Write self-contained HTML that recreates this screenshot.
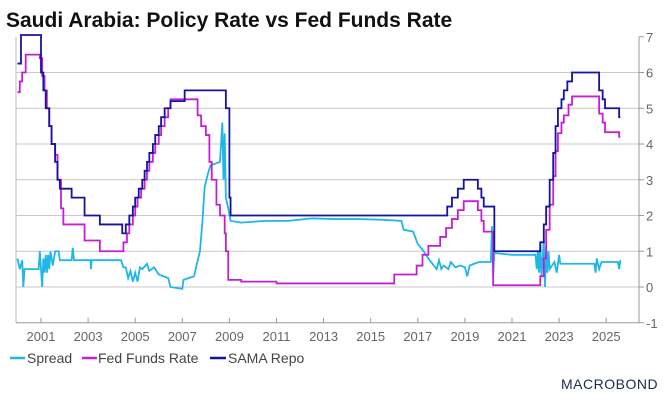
<!DOCTYPE html>
<html><head><meta charset="utf-8"><style>
body{margin:0;background:#fff;font-family:"Liberation Sans",Arial,sans-serif}
#wrap{position:relative;width:666px;height:404px;overflow:hidden}
</style></head><body>
<div id="wrap">
<svg id="chart" width="666" height="404">
<text x="6" y="27" font-size="21" font-weight="bold" fill="#111">Saudi Arabia: Policy Rate vs Fed Funds Rate</text>
<g id="grid"></g><g id="axes"></g><g id="series"></g>
<g>
<g><line x1="10" y1="358" x2="25" y2="358" stroke="#1fb6e8" stroke-width="2.5"/><text x="27" y="363" font-size="14" fill="#444">Spread</text></g>
<g><line x1="82" y1="358" x2="97" y2="358" stroke="#c51fd6" stroke-width="2.5"/><text x="98" y="363" font-size="14" fill="#444">Fed Funds Rate</text></g>
<g><line x1="210" y1="358" x2="226" y2="358" stroke="#14149e" stroke-width="2.5"/><text x="228" y="363" font-size="14" fill="#444">SAMA Repo</text></g>
</g>
<text x="561" y="389" font-size="14" fill="#1d2a4a" letter-spacing="0.5">MACROBOND</text>
</svg></div>
<script>
const yTicks=[-1,0,1,2,3,4,5,6,7];
const xTickYears=[2001,2003,2005,2007,2009,2011,2013,2015,2017,2019,2021,2023,2025];
const fedT=[2000.0,2000.1,2000.2,2000.35,2000.95,2001.05,2001.15,2001.25,2001.35,2001.45,2001.6,2001.7,2001.85,2001.95,2002.85,2003.5,2004.5,2004.65,2004.75,2004.9,2005.0,2005.1,2005.25,2005.4,2005.5,2005.6,2005.75,2005.85,2006.0,2006.1,2006.25,2006.4,2006.5,2007.65,2007.8,2008.0,2008.15,2008.25,2008.45,2008.6,2008.8,2008.85,2008.95,2009.5,2011,2014,2016.0,2016.95,2017.2,2017.45,2017.95,2018.2,2018.45,2018.7,2018.95,2019.55,2019.7,2019.8,2020.2,2022.2,2022.35,2022.45,2022.6,2022.75,2022.85,2022.95,2023.1,2023.2,2023.4,2023.55,2024.7,2024.85,2024.95,2025.55,2025.6];
const fedV=[5.45,5.75,6.0,6.5,6.4,5.9,5.5,5.0,4.5,4.0,3.7,3.0,2.2,1.75,1.3,1.0,1.25,1.5,1.75,2.0,2.25,2.5,2.75,3.0,3.25,3.5,3.75,4.0,4.25,4.5,4.75,5.0,5.25,4.8,4.5,4.25,3.5,3.0,2.3,2.0,1.5,1.0,0.2,0.15,0.1,0.1,0.35,0.6,0.9,1.15,1.4,1.65,1.9,2.15,2.4,2.15,1.85,1.55,0.05,0.3,0.8,1.6,2.3,3.1,3.8,4.3,4.6,4.8,5.1,5.33,4.85,4.6,4.33,4.2,4.2];
const samaT=[2000.0,2000.15,2001.0,2001.1,2001.2,2001.35,2001.45,2001.6,2001.7,2001.8,2002.3,2002.85,2003.5,2004.45,2004.6,2004.75,2004.9,2005.0,2005.15,2005.3,2005.4,2005.5,2005.6,2005.75,2005.85,2006.0,2006.1,2006.25,2006.5,2007.1,2008.85,2009.0,2009.05,2018.25,2018.45,2018.7,2018.95,2019.55,2019.7,2019.8,2020.25,2022.2,2022.35,2022.45,2022.6,2022.75,2022.85,2022.95,2023.1,2023.2,2023.35,2023.55,2024.7,2024.85,2024.95,2025.55,2025.6];
const samaV=[6.25,7.2,6.0,5.5,5.0,4.5,4.0,3.5,3.0,2.75,2.5,2.0,1.75,1.5,1.75,2.0,2.25,2.5,2.75,3.0,3.25,3.5,3.75,4.0,4.25,4.5,4.75,5.0,5.2,5.5,5.0,2.5,2.0,2.25,2.5,2.75,3.0,2.75,2.5,2.25,1.0,1.25,1.75,2.25,3.0,3.75,4.5,5.0,5.25,5.5,5.75,6.0,5.5,5.25,5.0,4.75,4.75];
const sprT=[2000.0,2000.1,2000.2,2000.25,2000.3,2000.9,2000.95,2001.0,2001.05,2001.1,2001.15,2001.2,2001.25,2001.3,2001.35,2001.4,2001.5,2001.6,2001.75,2001.8,2002.3,2002.35,2002.4,2003.1,2003.12,2003.15,2004.4,2004.5,2004.6,2004.7,2004.8,2004.9,2005.0,2005.1,2005.2,2005.3,2005.5,2005.6,2005.8,2006.0,2006.4,2006.5,2007.0,2007.05,2007.5,2007.6,2007.75,2007.85,2007.95,2008.1,2008.2,2008.6,2008.7,2008.75,2008.8,2008.85,2008.95,2009.05,2009.5,2010.5,2011.5,2012.5,2013.5,2014.5,2015.5,2016.3,2016.4,2016.8,2017.0,2017.25,2017.5,2017.8,2017.9,2018.0,2018.1,2018.3,2018.4,2018.6,2018.8,2019.0,2019.1,2019.2,2019.4,2019.6,2020.1,2020.15,2020.2,2020.25,2021.0,2022.0,2022.05,2022.1,2022.15,2022.2,2022.25,2022.35,2022.4,2022.45,2022.5,2022.55,2022.6,2022.8,2022.9,2023.0,2023.05,2024.5,2024.55,2024.6,2024.7,2024.8,2025.5,2025.55,2025.6];
const sprV=[0.8,0.5,0.75,0.0,0.5,0.5,1.0,0.5,0.0,0.8,0.4,0.9,0.4,0.9,0.5,1.0,0.6,1.0,1.0,0.75,0.75,1.1,0.75,0.75,0.5,0.75,0.75,0.55,0.55,0.25,0.45,0.15,0.4,0.15,0.55,0.5,0.65,0.45,0.55,0.35,0.25,0.0,-0.05,0.2,0.3,0.6,1.0,1.8,2.8,3.2,3.4,3.5,4.6,3.0,4.3,2.5,2.2,1.85,1.8,1.85,1.85,1.92,1.9,1.9,1.88,1.85,1.6,1.55,1.2,1.0,0.75,0.5,0.75,0.5,0.6,0.5,0.7,0.55,0.6,0.55,0.3,0.6,0.65,0.7,0.7,1.7,0.3,0.95,0.9,0.9,0.5,1.0,0.4,1.2,0.3,1.3,0.0,1.1,0.4,1.0,0.5,0.7,0.4,0.9,0.65,0.65,0.4,0.8,0.5,0.7,0.7,0.5,0.75];
const X=t=>41+23.55*(t-2001), Y=v=>287-35.75*v;
const NS="http://www.w3.org/2000/svg";
function mk(tag,attrs,parent){const e=document.createElementNS(NS,tag);for(const k in attrs)e.setAttribute(k,attrs[k]);parent.appendChild(e);return e;}
const grid=document.getElementById('grid'),axes=document.getElementById('axes'),series=document.getElementById('series');
yTicks.forEach(v=>{
 if(v>-1&&v<7){const l=mk('line',{x1:16,x2:639,y1:Y(v),y2:Y(v),stroke:'#c8c8c8','stroke-width':1},grid);
 
 }
 mk('line',{x1:639,x2:644,y1:Y(v),y2:Y(v),stroke:'#999'},axes);
 const t=mk('text',{x:646,y:Y(v)+5,'font-size':13,fill:'#666'},axes);t.textContent=v;
 
 
});
mk('line',{x1:639,x2:639,y1:Y(7),y2:Y(-1),stroke:'#999'},axes);
mk('line',{x1:16,x2:16,y1:Y(7),y2:Y(-1),stroke:'#bbb'},axes);
mk('line',{x1:16,x2:639,y1:Y(-1),y2:Y(-1),stroke:'#999'},axes);
xTickYears.forEach(y=>{
 mk('line',{x1:X(y),x2:X(y),y1:Y(-1),y2:Y(-1)-5,stroke:'#999'},axes);
 const t=mk('text',{x:X(y),y:341,'font-size':13,fill:'#666','text-anchor':'middle'},axes);t.textContent=y;
 
 
});
function step(T,V){let d='';for(let i=0;i<T.length;i++){const v=Math.min(V[i],7.05);if(i===0)d+='M'+X(T[i])+','+Y(v);else d+='H'+X(T[i])+'V'+Y(v);}return d;}
function poly(T,V){return T.map((t,i)=>(i?'L':'M')+X(t)+','+Y(V[i])).join('');}
const p1=mk('path',{d:poly(sprT,sprV),fill:'none',stroke:'#1fb6e8','stroke-width':1.8},series);


const p2=mk('path',{d:step(fedT,fedV),fill:'none',stroke:'#c51fd6','stroke-width':1.8},series);


const p3=mk('path',{d:step(samaT,samaV),fill:'none',stroke:'#14149e','stroke-width':1.8},series);


</script>
</body></html>
